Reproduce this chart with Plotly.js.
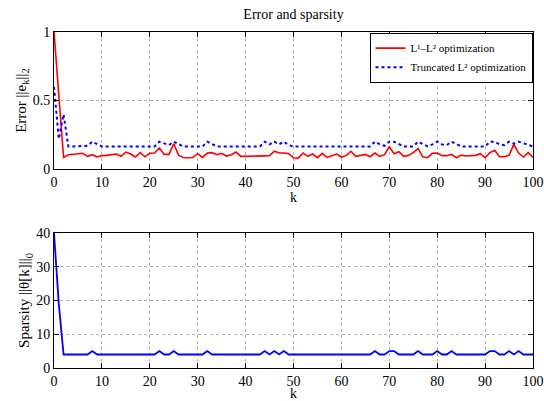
<!DOCTYPE html>
<html>
<head>
<meta charset="utf-8">
<script src="https://cdn.plot.ly/plotly-3.0.1.min.js"></script>
<style>html,body{margin:0;padding:0;background:#fff;}#chart{width:544px;height:401px;}</style>
</head>
<body>
<div id="chart"></div>
<script>
// k values 0..100
const k = [];
for (let i = 0; i <= 100; i++) k.push(i);

const errL1L2 = [
  1.0, 0.55, 0.085, 0.105, 0.11, 0.115, 0.115, 0.093, 0.105, 0.088,
  0.098, 0.1, 0.105, 0.11, 0.093, 0.124, 0.11, 0.088, 0.12, 0.09,
  0.115, 0.117, 0.154, 0.107, 0.107, 0.185, 0.102, 0.085, 0.083, 0.085,
  0.112, 0.085, 0.117, 0.12, 0.105, 0.115, 0.095, 0.105, 0.124, 0.093,
  0.093, 0.093, 0.098, 0.095, 0.098, 0.098, 0.13, 0.117, 0.117, 0.112,
  0.083, 0.08, 0.117, 0.093, 0.11, 0.083, 0.115, 0.085, 0.098, 0.11,
  0.088, 0.098, 0.13, 0.093, 0.1, 0.107, 0.09, 0.117, 0.093, 0.105,
  0.163, 0.112, 0.127, 0.093, 0.1, 0.12, 0.151, 0.088, 0.085, 0.115,
  0.117, 0.098, 0.098, 0.107, 0.083, 0.102, 0.095, 0.095, 0.1, 0.112,
  0.083, 0.12, 0.137, 0.09, 0.09, 0.1, 0.18, 0.117, 0.088, 0.12,
  0.085
];

const errTruncL2 = [
  0.6, 0.22, 0.4, 0.165, 0.165, 0.165, 0.165, 0.17, 0.2, 0.185,
  0.165, 0.165, 0.165, 0.165, 0.165, 0.165, 0.165, 0.165, 0.165, 0.165,
  0.165, 0.165, 0.2, 0.185, 0.175, 0.2, 0.18, 0.165, 0.165, 0.165,
  0.165, 0.165, 0.2, 0.18, 0.165, 0.165, 0.165, 0.165, 0.165, 0.165,
  0.165, 0.165, 0.165, 0.165, 0.2, 0.18, 0.2, 0.18, 0.2, 0.175,
  0.165, 0.165, 0.165, 0.165, 0.165, 0.165, 0.165, 0.165, 0.165, 0.165,
  0.165, 0.165, 0.165, 0.165, 0.165, 0.165, 0.165, 0.2, 0.18, 0.17,
  0.2, 0.2, 0.18, 0.165, 0.165, 0.165, 0.2, 0.18, 0.165, 0.18,
  0.2, 0.18, 0.175, 0.2, 0.18, 0.165, 0.165, 0.165, 0.165, 0.165,
  0.165, 0.2, 0.2, 0.18, 0.175, 0.2, 0.185, 0.2, 0.19, 0.18,
  0.165
];

const sparsity = [
  40, 19, 4, 4, 4, 4, 4, 4, 5, 4,
  4, 4, 4, 4, 4, 4, 4, 4, 4, 4,
  4, 4, 5, 4, 4, 5, 4, 4, 4, 4,
  4, 4, 5, 4, 4, 4, 4, 4, 4, 4,
  4, 4, 4, 4, 5, 4, 5, 4, 5, 4,
  4, 4, 4, 4, 4, 4, 4, 4, 4, 4,
  4, 4, 4, 4, 4, 4, 4, 5, 4, 4,
  5, 5, 4, 4, 4, 4, 5, 4, 4, 4,
  5, 4, 4, 5, 4, 4, 4, 4, 4, 4,
  4, 5, 5, 4, 4, 5, 4, 5, 4, 4,
  4
];

const xTicks = [0, 10, 20, 30, 40, 50, 60, 70, 80, 90, 100];
const yTicksTop = [0, 0.5, 1];
const yTickTextTop = ['0', '0.5', '1'];
const yTicksBottom = [0, 10, 20, 30, 40];

const FONT = 'Liberation Serif';

const traces = [
  {x: k, y: errL1L2, xaxis: 'x', yaxis: 'y', type: 'scatter', mode: 'lines',
   name: 'L\u00b9\u2013L\u00b2 optimization',
   line: {color: '#ff0000', width: 1.6}},
  {x: k, y: errTruncL2, xaxis: 'x', yaxis: 'y', type: 'scatter', mode: 'lines',
   name: 'Truncated L\u00b2 optimization',
   line: {color: '#0000ff', width: 2, dash: 'dot'}},
  {x: k, y: sparsity, xaxis: 'x2', yaxis: 'y2', type: 'scatter', mode: 'lines',
   showlegend: false, line: {color: '#0000ff', width: 1.8}}
];

const axBase = {
  showline: true, linecolor: '#000', linewidth: 1, mirror: 'ticks',
  ticks: 'inside', ticklen: 5, tickcolor: '#000', tickwidth: 1,
  showgrid: true, gridcolor: '#b0b0b0', griddash: 'dot', gridwidth: 1,
  zeroline: false, ticklabeloverflow: 'allow',
  tickfont: {family: FONT, size: 14, color: '#000'}
};

const layout = {
  width: 544, height: 401,
  paper_bgcolor: '#fff', plot_bgcolor: '#fff',
  margin: {l: 54, r: 11, t: 32, b: 33},
  font: {family: FONT, color: '#000'},
  title: {text: 'Error and sparsity', font: {family: FONT, size: 14, color: '#000'},
          x: 0.5, xref: 'paper', y: 0.965, yanchor: 'middle'},
  showlegend: true,
  legend: {x: 0.999, xanchor: 'right', y: 0.998, yanchor: 'top',
           bgcolor: '#fff', bordercolor: '#000', borderwidth: 1,
           font: {family: FONT, size: 11, color: '#000'},
           tracegroupgap: 0, itemwidth: 30},
  xaxis: Object.assign({}, axBase, {domain: [0, 1], anchor: 'y', range: [0, 100],
          tickvals: xTicks, title: {text: 'k', font: {family: FONT, size: 14}, standoff: 0}}),
  yaxis: Object.assign({}, axBase, {domain: [0.592, 1], anchor: 'x', range: [0, 1],
          tickvals: yTicksTop, ticktext: yTickTextTop,
          title: {text: 'Error ||e<sub>k</sub>||<sub>2</sub>', font: {family: FONT, size: 15}, standoff: 2}}),
  xaxis2: Object.assign({}, axBase, {domain: [0, 1], anchor: 'y2', range: [0, 100],
          tickvals: xTicks, title: {text: 'k', font: {family: FONT, size: 14}, standoff: 1}}),
  yaxis2: Object.assign({}, axBase, {domain: [0, 0.402], anchor: 'x2', range: [0, 40],
          tickvals: yTicksBottom,
          title: {text: 'Sparsity ||\u03b8[k]||<sub>0</sub>', font: {family: FONT, size: 15}, standoff: 2}})
};

Plotly.newPlot('chart', traces, layout, {staticPlot: true, displayModeBar: false});
</script>
</body>
</html>
